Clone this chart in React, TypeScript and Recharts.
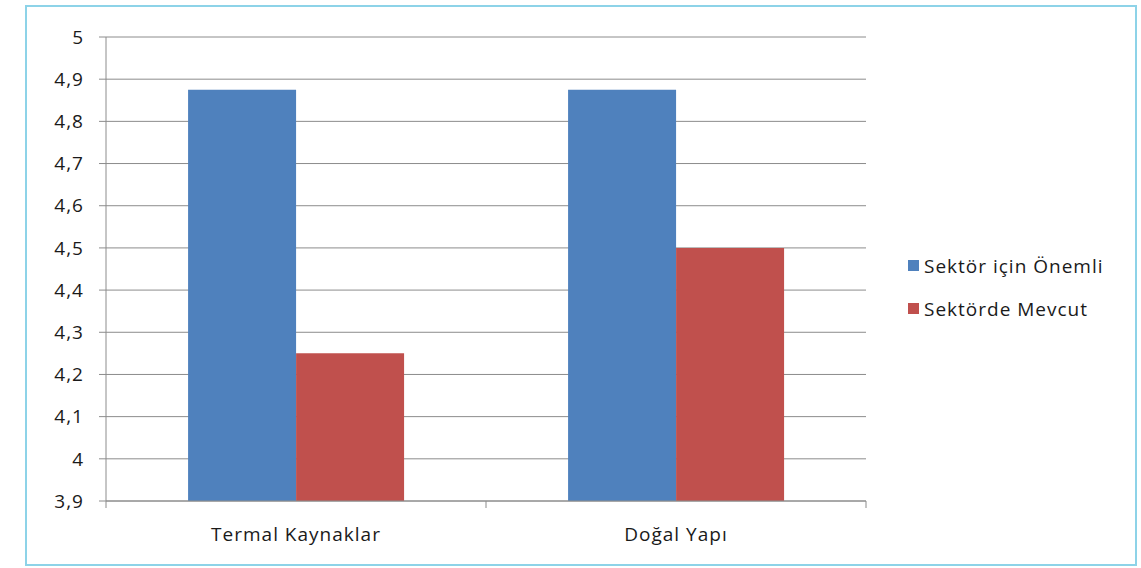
import { Bar, BarChart, CartesianGrid, XAxis, YAxis } from 'recharts';

const CATEGORIES = ['Termal Kaynaklar', 'Doğal Yapı'];
const ONEMLI = [4.875, 4.875];
const MEVCUT = [4.25, 4.5];
const Y_TICKS = [3.9, 4, 4.1, 4.2, 4.3, 4.4, 4.5, 4.6, 4.7, 4.8, 4.9, 5];

const SERIES = [
  { key: 'onemli', name: 'Sektör için Önemli', color: '#4f81bd' },
  { key: 'mevcut', name: 'Sektörde Mevcut', color: '#c0504d' },
];

const data = CATEGORIES.map((name, i) => ({
  name,
  onemli: ONEMLI[i],
  mevcut: MEVCUT[i],
}));

const FONT = '"Open Sans", "Liberation Sans", sans-serif';
const TEXT = '#1a1a1a';
const FS = 19;
const CHART_W = 1108;
const CHART_H = 557;
const M = { top: 30, right: 269, left: 0, bottom: 0 };
const Y_W = 79;
const BAND = (CHART_W - M.left - M.right - Y_W) / CATEGORIES.length;

// tick marks sit between categories, like the spreadsheet original
function CategoryTick(props: any) {
  const { x, y, payload, index } = props;
  return (
    <g>
      {index === 0 && (
        <line x1={x - BAND / 2} y1={y - 8} x2={x - BAND / 2} y2={y - 1} stroke="#8c8c8c" />
      )}
      <line x1={x + BAND / 2} y1={y - 8} x2={x + BAND / 2} y2={y - 1} stroke="#8c8c8c" />
      <text
        x={x}
        y={y + 32}
        textAnchor="middle"
        fill={TEXT}
        fontSize={FS}
        fontWeight={500}
        letterSpacing={1}
        fontFamily={FONT}
      >
        {payload.value}
      </text>
    </g>
  );
}

function SideLegend() {
  return (
    <div
      style={{
        position: 'absolute',
        left: 881,
        top: 237,
        fontFamily: FONT,
        fontSize: FS,
        fontWeight: 500,
        letterSpacing: 1,
        color: TEXT,
      }}
    >
      {SERIES.map((s) => (
        <div key={s.key} style={{ display: 'flex', alignItems: 'center', height: 43 }}>
          <span style={{ width: 11, height: 11, background: s.color, marginRight: 5 }} />
          {s.name}
        </div>
      ))}
    </div>
  );
}

export default function App() {
  return (
    <div
      style={{
        position: 'absolute',
        left: 25,
        top: 5,
        width: CHART_W,
        height: CHART_H,
        border: '2px solid #8dd3e8',
        background: '#fff',
      }}
    >
      <BarChart width={CHART_W} height={CHART_H} data={data} margin={M} barCategoryGap="21.6%" barGap={0}>
        <CartesianGrid vertical={false} stroke="#8c8c8c" />
        <XAxis
          dataKey="name"
          axisLine={{ stroke: '#8c8c8c' }}
          tickLine={false}
          tick={<CategoryTick />}
          height={63}
          interval={0}
        />
        <YAxis
          domain={[3.9, 5]}
          ticks={Y_TICKS}
          allowDataOverflow
          width={Y_W}
          axisLine={{ stroke: '#8c8c8c' }}
          tickLine={{ stroke: '#8c8c8c' }}
          tickSize={7}
          tickMargin={15}
          tick={{ fill: TEXT, fontSize: FS, fontWeight: 500, letterSpacing: 1, fontFamily: FONT }}
          tickFormatter={(v: number) => String(v).replace('.', ',')}
        />
        {SERIES.map((s) => (
          <Bar key={s.key} dataKey={s.key} name={s.name} fill={s.color} isAnimationActive={false} />
        ))}
      </BarChart>
      <SideLegend />
    </div>
  );
}
